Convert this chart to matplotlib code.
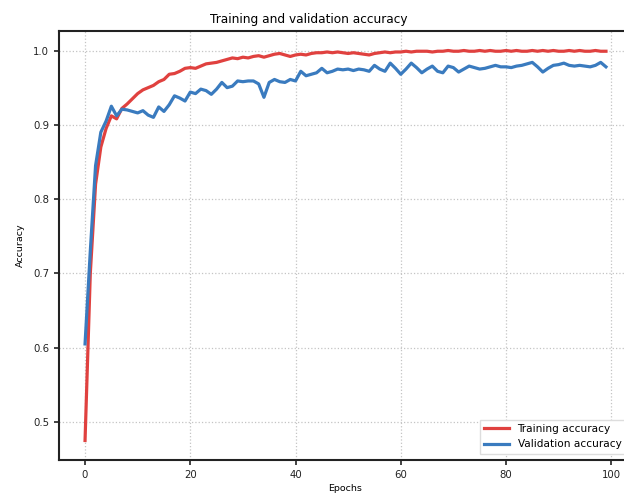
import matplotlib
matplotlib.use("Agg")
import matplotlib.pyplot as plt
import numpy as np

epochs = list(range(100))

train_acc = [
    0.475, 0.700, 0.820, 0.870, 0.895, 0.912, 0.908, 0.922, 0.928, 0.935,
    0.942, 0.947, 0.950, 0.953, 0.958, 0.961, 0.968, 0.969, 0.972, 0.976,
    0.977, 0.976, 0.979, 0.982, 0.983, 0.984, 0.986, 0.988, 0.990, 0.989,
    0.991, 0.990, 0.992, 0.993, 0.991, 0.993, 0.995, 0.996, 0.994, 0.992,
    0.994, 0.995, 0.994, 0.996, 0.997, 0.997, 0.998, 0.997, 0.998, 0.997,
    0.996, 0.997, 0.996, 0.995, 0.994, 0.996, 0.997, 0.998, 0.997, 0.998,
    0.998, 0.999, 0.998, 0.999, 0.999, 0.999, 0.998, 0.999, 0.999, 1.000,
    0.999, 0.999, 1.000, 0.999, 0.999, 1.000, 0.999, 1.000, 0.999, 0.999,
    1.000, 0.999, 1.000, 0.999, 0.999, 1.000, 0.999, 1.000, 0.999, 1.000,
    0.999, 0.999, 1.000, 0.999, 1.000, 0.999, 0.999, 1.000, 0.999, 0.999,
]

val_acc = [
    0.605, 0.730, 0.845, 0.890, 0.905, 0.925, 0.912, 0.921, 0.920, 0.918,
    0.916, 0.919, 0.913, 0.910, 0.924, 0.918, 0.927, 0.939, 0.936, 0.932,
    0.944, 0.942, 0.948, 0.946, 0.941, 0.948, 0.957, 0.950, 0.952, 0.959,
    0.958, 0.959, 0.959, 0.955, 0.937, 0.957, 0.961, 0.958, 0.957, 0.961,
    0.959, 0.972, 0.966, 0.968, 0.970, 0.976, 0.970, 0.972, 0.975, 0.974,
    0.975, 0.973, 0.975, 0.974, 0.972, 0.980, 0.975, 0.972, 0.983, 0.976,
    0.968, 0.975, 0.983, 0.977, 0.970, 0.975, 0.979, 0.972, 0.970, 0.979,
    0.977, 0.971, 0.975, 0.979, 0.977, 0.975, 0.976, 0.978, 0.980, 0.978,
    0.978, 0.977, 0.979, 0.980, 0.982, 0.984, 0.978, 0.971, 0.976, 0.980,
    0.981, 0.983, 0.980, 0.979, 0.980, 0.979, 0.978, 0.980, 0.984, 0.978,
]

fig = plt.figure(figsize=(6.24, 4.99), dpi=100)
ax = fig.add_axes([59 / 624, 39 / 499, (632 - 59) / 624, (460 - 31) / 499])

ax.plot(epochs, train_acc, color="#e0413f", linewidth=2.3, label="Training accuracy")
ax.plot(epochs, val_acc, color="#3a7bbf", linewidth=2.3, label="Validation accuracy")

ax.set_xticks([0, 20, 40, 60, 80, 100])
ax.set_yticks([0.5, 0.6, 0.7, 0.8, 0.9, 1.0])
ax.grid(True, color="#c4c4c4", linestyle=":", linewidth=0.9)
ax.tick_params(labelsize=7.3, width=1.2, length=3.5, colors="#222222")
for s in ax.spines.values():
    s.set_linewidth(1.5)
    s.set_color("#222222")

ax.set_title("Training and validation accuracy", fontsize=8.7, x=0.435, pad=6)
ax.set_xlabel("Epochs", fontsize=6.8, labelpad=3)
ax.set_ylabel("Accuracy", fontsize=6.8, labelpad=6)
ax.legend(loc="lower right", fontsize=7.6, frameon=True, framealpha=1,
          edgecolor="#dddddd", fancybox=False, handlelength=2.4,
          borderaxespad=0.6)

fig.savefig("out.png", dpi=100)
